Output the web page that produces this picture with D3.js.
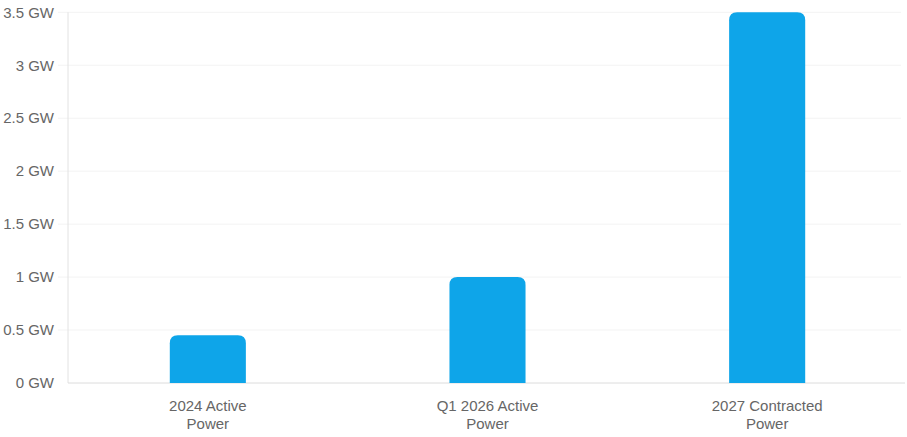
<!DOCTYPE html>
<html><head><meta charset="utf-8">
<script src="https://cdn.jsdelivr.net/npm/d3@7/dist/d3.min.js"></script>
<style>body{margin:0;background:#fff}svg{display:block}text{font-family:"Liberation Sans",Arial,sans-serif}</style>
</head><body>
<svg id="c" width="907" height="437"></svg>
<script>
const categories = [["2024 Active","Power"],["Q1 2026 Active","Power"],["2027 Contracted","Power"]];
const values = [0.45, 1.0, 3.5];
const yTicks = [0,0.5,1,1.5,2,2.5,3,3.5];
const tickLabels = ["0 GW","0.5 GW","1 GW","1.5 GW","2 GW","2.5 GW","3 GW","3.5 GW"];

const svg = d3.select("#c");
const m = {l:68, r:0, t:12.3, b:54};
const W = 907, H = 437;
const x = d3.scaleBand().domain(d3.range(categories.length)).range([m.l, W-m.r]).padding(0);
const y = d3.scaleLinear().domain([0,3.5]).range([H-m.b, m.t]);

// grid
svg.append("g").selectAll("line").data(yTicks.slice(1)).join("line")
  .attr("x1", m.l-10).attr("x2", W-6).attr("y1", d=>y(d)).attr("y2", d=>y(d))
  .attr("stroke","#f3f3f3").attr("stroke-width",1);

// y labels
svg.append("g").selectAll("text").data(yTicks).join("text")
  .attr("x", 54).attr("y", d=>y(d)).attr("dy","0.35em").attr("text-anchor","end")
  .attr("font-size",15).attr("fill","#666").text((d,i)=>tickLabels[i]);

// axis lines
svg.append("line").attr("x1",m.l).attr("x2",m.l).attr("y1",m.t).attr("y2",y(0)).attr("stroke","#e2e2e2");
svg.append("line").attr("x1",m.l).attr("x2",W-2).attr("y1",y(0)).attr("y2",y(0)).attr("stroke","#dcdcdc");

// bars
const bw = x.bandwidth()*0.272, r = 8;
svg.append("g").selectAll("path").data(values).join("path")
  .attr("fill","#0EA5E9")
  .attr("d",(d,i)=>{
    const cx = x(i)+x.bandwidth()/2, x0 = cx-bw/2, x1 = cx+bw/2, y0 = y(0), yt = y(d);
    return `M${x0},${y0}V${yt+r}Q${x0},${yt} ${x0+r},${yt}H${x1-r}Q${x1},${yt} ${x1},${yt+r}V${y0}Z`;
  });

// x labels
const xl = svg.append("g").selectAll("text").data(categories).join("text")
  .attr("x",(d,i)=>x(i)+x.bandwidth()/2).attr("y", 411).attr("text-anchor","middle")
  .attr("font-size",15).attr("fill","#666");
xl.selectAll("tspan").data(d=>d).join("tspan")
  .attr("x",function(){return this.parentNode.getAttribute("x");})
  .attr("dy",(d,i)=>i?18:0).text(d=>d);
</script>
</body></html>
